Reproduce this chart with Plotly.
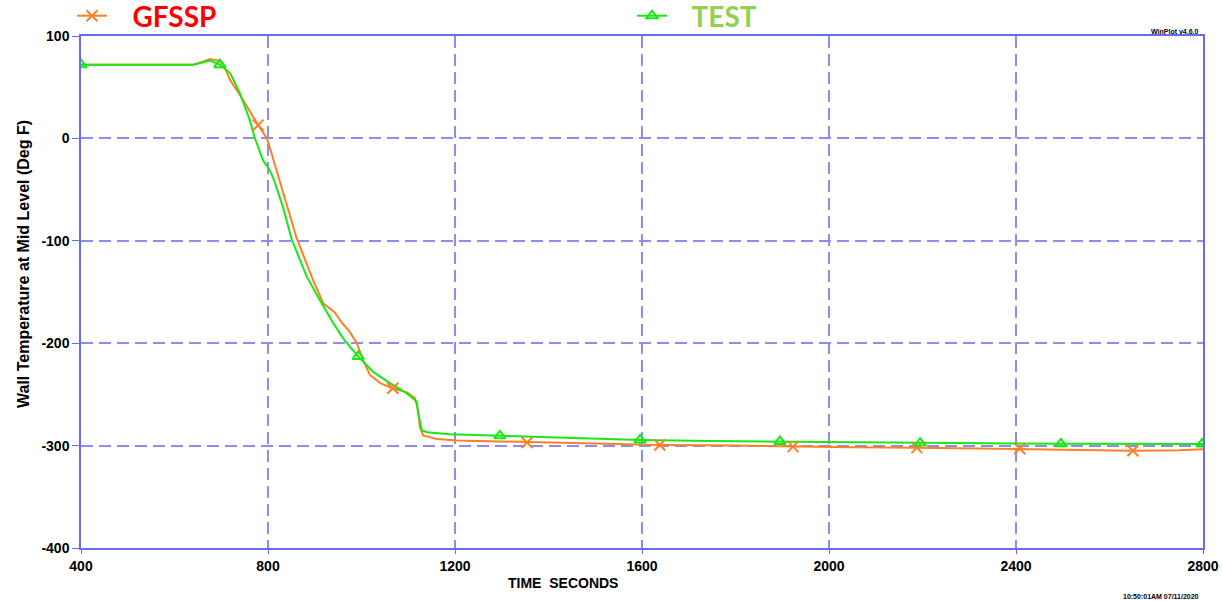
import plotly.graph_objects as go

# ---- data ----
gfssp_t = [400, 640, 660, 676, 695, 705, 719, 750, 779, 798, 826, 861, 896, 918, 943, 958,
           975, 990, 1003, 1018, 1040, 1067, 1097, 1114, 1121, 1125, 1132, 1161, 1204, 1296,
           1354, 1450, 1638, 1800, 1923, 2050, 2188, 2300, 2408, 2500, 2650, 2750, 2800]
gfssp_T = [72, 72, 75, 77.5, 76, 72, 57, 35, 13, 0, -43, -97, -138, -161, -170, -180,
           -189, -200, -216, -231, -239, -244, -248, -253.5, -265, -282, -290, -293.5, -295, -296,
           -297, -298, -299.4, -300, -301, -301.5, -302, -302.5, -303, -304, -305, -304.5, -303.5]
gfssp_mark_t = [779, 1067, 1354, 1638, 1923, 2188, 2408, 2650]
gfssp_mark_T = [13, -244, -297, -299.4, -301, -302, -303, -305]

test_t = [400, 640, 660, 676, 697, 719, 740, 761, 772, 783, 790, 798, 805, 815, 832, 851,
          883, 911, 939, 962, 969, 993, 1025, 1061, 1097, 1118, 1121, 1129, 1140, 1189,
          1296, 1450, 1596, 1750, 1895, 2050, 2195, 2350, 2496, 2800]
test_T = [72, 72, 74, 76, 72, 63.8, 44, 18, 0, -14, -22, -27, -32, -43.5, -67, -99,
          -135, -158, -180, -196, -200, -213, -228, -239, -249, -257, -268, -285, -287, -289,
          -290.5, -292.5, -294.5, -295.5, -296, -297, -297.5, -298, -298.3, -298.4]
test_mark_t = [400, 697, 993, 1296, 1596, 1895, 2195, 2496, 2798]
test_mark_T = [72, 72, -213, -290.5, -294.5, -296, -297.5, -298.3, -298.4]

x_ticks = [400, 800, 1200, 1600, 2000, 2400, 2800]
y_ticks = [100, 0, -100, -200, -300, -400]

ORANGE = "#ff7f27"
GREEN = "#16e916"
GRID = "#8c8cf5"
AXIS = "#6a6af0"

W, H = 1222, 601
L, R, T, B = 81, 19, 36, 53
PW, PH = W - L - R, H - T - B


def px(xp):
    return (xp - L) / PW


def py(yp):
    return (H - B - yp) / PH


fig = go.Figure()

fig.add_trace(go.Scatter(x=gfssp_t, y=gfssp_T, mode="lines", line=dict(color=ORANGE, width=2),
                         showlegend=False, hoverinfo="skip"))
fig.add_trace(go.Scatter(x=test_t, y=test_T, mode="lines", line=dict(color=GREEN, width=2),
                         showlegend=False, hoverinfo="skip"))
fig.add_trace(go.Scatter(x=gfssp_mark_t, y=gfssp_mark_T, mode="markers",
                         marker=dict(symbol="x-thin", size=11, line=dict(color=ORANGE, width=2)),
                         showlegend=False))
fig.add_trace(go.Scatter(x=test_mark_t, y=test_mark_T, mode="markers",
                         marker=dict(symbol="triangle-up-open", size=10, color=GREEN,
                                     line=dict(color=GREEN, width=2)),
                         showlegend=False))
fig.add_trace(go.Scatter(x=[None], y=[None], mode="lines+markers",
                         name="\u00a0\u00a0\u00a0GFSSP",
                         line=dict(color=ORANGE, width=2),
                         marker=dict(symbol="x-thin", size=11, line=dict(color=ORANGE, width=2)),
                         legend="legend"))
fig.add_trace(go.Scatter(x=[None], y=[None], mode="lines+markers",
                         name="\u00a0\u00a0\u00a0TEST",
                         line=dict(color=GREEN, width=2),
                         marker=dict(symbol="triangle-up-open", size=10, color=GREEN,
                                     line=dict(color=GREEN, width=2)),
                         legend="legend2"))

tick_font = dict(family="Liberation Sans, Arial", size=14, color="black", weight="bold")
leg_font = dict(family="Lato, Noto Sans", size=28, weight="bold")

fig.update_layout(
    width=W, height=H,
    margin=dict(l=L, r=R, t=T, b=B, pad=0, autoexpand=False),
    paper_bgcolor="white", plot_bgcolor="white",
    xaxis=dict(range=[400, 2800], tickvals=x_ticks, ticktext=[str(v) for v in x_ticks],
               showgrid=True, gridcolor=GRID, gridwidth=1.5, griddash="12px,6px",
               showline=True, linecolor=AXIS, linewidth=1.5, mirror=True,
               ticks="outside", ticklen=4, tickcolor=AXIS, tickfont=tick_font,
               zeroline=False),
    yaxis=dict(range=[-400, 100], tickvals=y_ticks, ticktext=[str(v) for v in y_ticks],
               showgrid=True, gridcolor=GRID, gridwidth=1.5, griddash="12px,6px",
               showline=True, linecolor=AXIS, linewidth=1.5, mirror=True,
               ticks="outside", ticklen=7, tickcolor=AXIS, tickfont=tick_font,
               zeroline=False),
    legend=dict(x=px(72), y=py(16), xanchor="left", yanchor="middle", bgcolor="rgba(0,0,0,0)",
                font=dict(leg_font, color="#ff0000")),
    legend2=dict(x=px(632), y=py(16), xanchor="left", yanchor="middle", bgcolor="rgba(0,0,0,0)",
                 font=dict(leg_font, color="#92d050")),
    annotations=[
        dict(text="Wall Temperature at Mid Level (Deg F)", textangle=-90,
             x=px(23), y=py(264), xref="paper", yref="paper",
             showarrow=False, xanchor="center", yanchor="middle",
             font=dict(family="Liberation Sans, Arial", size=16, color="black", weight="bold")),
        dict(text="TIME  SECONDS", x=px(563), y=py(583),
             xref="paper", yref="paper", showarrow=False, xanchor="center", yanchor="middle",
             font=dict(family="Liberation Sans, Arial", size=14, color="black", weight="bold")),
        dict(text="WinPlot v4.6.0", x=px(1201), y=py(31), xref="paper", yref="paper",
             xanchor="right", yanchor="middle", showarrow=False,
             font=dict(family="Liberation Sans, Arial", size=7, color="black", weight="bold")),
        dict(text="10:50:01AM 07/11/2020", x=px(1201), y=py(596), xref="paper", yref="paper",
             xanchor="right", yanchor="middle", showarrow=False,
             font=dict(family="Liberation Sans, Arial", size=7, color="black", weight="bold")),
    ],
)

fig.write_html("out.html")
